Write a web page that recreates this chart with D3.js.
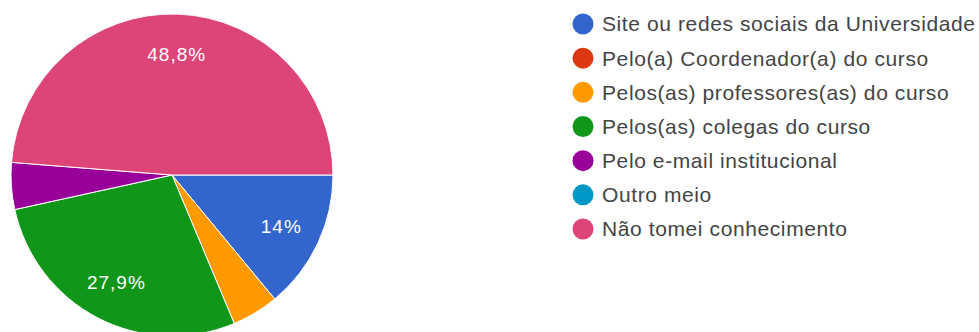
<!DOCTYPE html>
<html>
<head>
<meta charset="utf-8">
<script src="https://cdn.jsdelivr.net/npm/d3@7"></script>
<style>
  html, body { margin: 0; padding: 0; background: #fff; }
  svg { display: block; font-family: Arial, "Liberation Sans", sans-serif; }
</style>
</head>
<body>
<svg id="chart" width="979" height="332"></svg>
<script>
// Answer categories, in legend order
const categories = [
  "Site ou redes sociais da Universidade",
  "Pelo(a) Coordenador(a) do curso",
  "Pelos(as) professores(as) do curso",
  "Pelos(as) colegas do curso",
  "Pelo e-mail institucional",
  "Outro meio",
  "Não tomei conhecimento"
];
// Share of responses (%)
const shares = [14, 0, 4.7, 27.9, 4.7, 0, 48.8];
// Slice colours
const colors = ["#3366cc", "#dc3912", "#ff9900", "#109618", "#990099", "#0099c6", "#dd4477"];

const svg = d3.select("#chart");
const cx = 172, cy = 175, radius = 161;

const data = categories.map((c, i) => ({ name: c, value: shares[i], color: colors[i] }));

const pie = d3.pie()
  .value(d => d.value)
  .sort(null)
  .startAngle(Math.PI / 2)
  .endAngle(Math.PI / 2 + 2 * Math.PI);

const arc = d3.arc().innerRadius(0).outerRadius(radius);
const labelArc = d3.arc().innerRadius(radius * 0.75).outerRadius(radius * 0.75);

const g = svg.append("g").attr("transform", `translate(${cx},${cy})`);
const arcs = pie(data);

g.selectAll("path.slice")
  .data(arcs.filter(a => a.data.value > 0))
  .join("path")
  .attr("class", "slice")
  .attr("d", arc)
  .attr("fill", d => d.data.color)
  .attr("stroke", "#fff")
  .attr("stroke-width", 1);

const fmt = v => String(v).replace(".", ",") + "%";

g.selectAll("text.pct")
  .data(arcs.filter(a => a.data.value >= 5))
  .join("text")
  .attr("class", "pct")
  .attr("transform", d => `translate(${labelArc.centroid(d)})`)
  .attr("text-anchor", "middle")
  .attr("dy", "0.35em")
  .attr("fill", "#fff")
  .attr("font-size", 19)
  .attr("letter-spacing", 1)
  .text(d => fmt(d.data.value));

// Legend
const legendY = d3.scalePoint().domain(categories).range([24, 229]);
const legend = svg.append("g");
const rows = legend.selectAll("g.row")
  .data(data)
  .join("g")
  .attr("class", "row")
  .attr("transform", d => `translate(583,${legendY(d.name)})`);

rows.append("circle")
  .attr("r", 10.5)
  .attr("fill", d => d.color);

rows.append("text")
  .attr("x", 19)
  .attr("dy", "0.35em")
  .attr("font-size", 21)
  .attr("letter-spacing", 0.6)
  .attr("fill", "#444")
  .text(d => d.name);
</script>
</body>
</html>
